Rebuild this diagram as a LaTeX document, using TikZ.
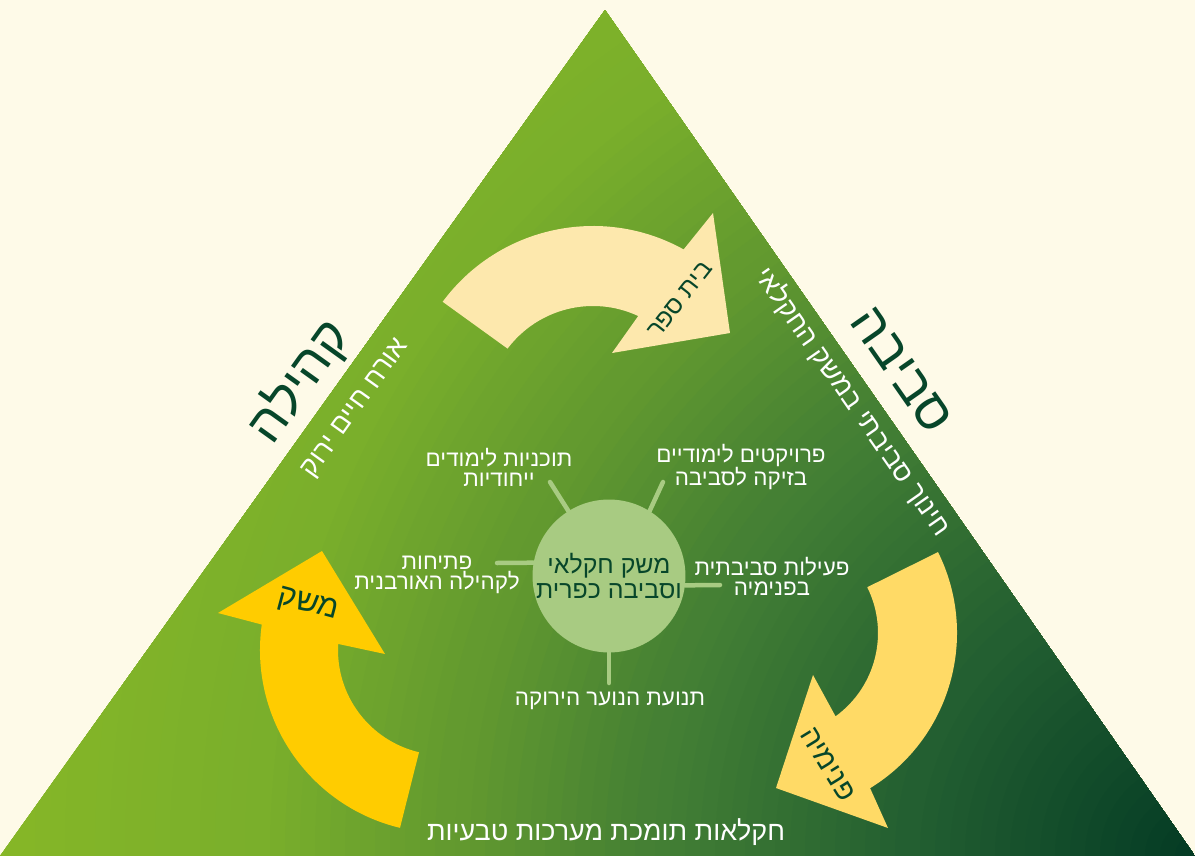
\documentclass[tikz,border=0pt]{standalone}
\usepackage{fontspec}
\newfontfamily\heb[Script=Hebrew]{Liberation Sans}
\TeXXeTstate=1
\usetikzlibrary{calc}
\definecolor{bg}{HTML}{FEFAE8}
\definecolor{g0}{HTML}{88B826}
\definecolor{g1}{HTML}{7AAF2B}
\definecolor{g2}{HTML}{62992F}
\definecolor{g3}{HTML}{437F34}
\definecolor{g4}{HTML}{235F31}
\definecolor{g5}{HTML}{033A24}
\definecolor{dkgreen}{HTML}{07462A}
\definecolor{circlegreen}{HTML}{A8CB82}
\definecolor{paleyellow}{HTML}{FDE8AD}
\definecolor{midyellow}{HTML}{FFDA66}
\definecolor{gold}{HTML}{FFCC00}
\newcommand{\myR}[1]{\beginR #1\endR}
\tikzset{
  smalltxt/.style={text=white, font=\heb\fontsize{22.5}{20}\selectfont, align=center, inner sep=0pt},
  sidetxt/.style={text=white, font=\heb\fontsize{27}{27}\selectfont, inner sep=0pt},
  titletxt/.style={text=dkgreen, font=\heb\fontsize{52}{52}\selectfont, inner sep=0pt},
  arrowtxt/.style={text=dkgreen, font=\heb\fontsize{25}{25}\selectfont, inner sep=0pt},
  spoke/.style={draw=circlegreen, line width=4.5bp, line cap=round},
}
\begin{document}
\begin{tikzpicture}[x=1bp,y=1bp]
\useasboundingbox (0,0) rectangle (1195,-856);
\fill[bg] (0,0) rectangle (1195,-856);
% triangle with gradient
\begin{scope}
\clip (0,-856) -- (605,-10) -- (1195,-856) -- cycle;
\foreach \r in {1250,1235,...,950} {\pgfmathtruncatemacro\p{(\r-950)/300*100}\fill[g0!\p!g1] (1195,-856) circle[radius=\r];}
\foreach \r in {940,925,...,750} {\pgfmathtruncatemacro\p{(\r-750)/190*100}\fill[g1!\p!g2] (1195,-856) circle[radius=\r];}
\foreach \r in {740,725,...,550} {\pgfmathtruncatemacro\p{(\r-550)/190*100}\fill[g2!\p!g3] (1195,-856) circle[radius=\r];}
\foreach \r in {540,525,...,300} {\pgfmathtruncatemacro\p{(\r-300)/240*100}\fill[g3!\p!g4] (1195,-856) circle[radius=\r];}
\foreach \r in {290,275,...,5} {\pgfmathtruncatemacro\p{(\r)/290*100}\fill[g4!\p!g5] (1195,-856) circle[radius=\r];}
\end{scope}
% arrows
\coordinate (O1) at (593,-413);
\coordinate (O2) at (775,-633);
\coordinate (O3) at (443,-650);
\fill[paleyellow] ($(O1)+(143.5:187)$) arc[start angle=143.5, end angle=61, radius=187]
  -- (713,-213) -- (730,-333) -- (612,-353) -- ($(O1)+(65:107)$)
  arc[start angle=65, end angle=143, radius=107] -- cycle;
\fill[midyellow] ($(O2)+(26.4:182)$) arc[start angle=26.4, end angle=-58.5, radius=182]
  -- (888,-828) -- (776,-788) -- (813,-675) -- ($(O2)+(-54:103)$)
  arc[start angle=-54, end angle=26.4, radius=103] -- cycle;
\fill[gold] ($(O3)+(256.4:183)$) arc[start angle=256.4, end angle=172, radius=183]
  -- (218,-613) -- (322,-551) -- (385,-654) -- ($(O3)+(176.7:105)$)
  arc[start angle=176.7, end angle=256.8, radius=105] -- cycle;
% arrow labels
\node[arrowtxt, rotate=52] (school) at (680,-300) {\myR{בית ספר}};
\node[arrowtxt, rotate=-58.5, font=\heb\fontsize{29}{29}\selectfont] (dorm) at (828,-764) {\myR{פנימיה}};
\node[arrowtxt, rotate=-15, font=\heb\fontsize{31}{31}\selectfont] (farm) at (308,-605) {משק};
% side titles
\node[titletxt, rotate=54.4] (community) at (299,-382) {\myR{קהילה}};
\node[sidetxt, rotate=54.4] (greenlife) at (356,-409) {\myR{אורח חיים ירוק}};
\node[titletxt, rotate=-55.1] (environment) at (901,-370) {\myR{סביבה}};
\node[sidetxt, rotate=-55.1] (enved) at (853,-402) {\myR{חינוך סביבתי במשק החקלאי}};
% centre circle
\node[circle, fill=circlegreen, minimum size=150bp, inner sep=0pt, text=dkgreen,
  font=\heb\fontsize{25}{26}\selectfont, align=center] (c) at (609,-576)
  {\myR{משק חקלאי}\\\myR{וסביבה כפרית}};
\coordinate (e1) at (550,-482);
\coordinate (e2) at (663,-482);
\coordinate (e3) at (497,-563);
\coordinate (e4) at (720,-585);
\coordinate (e5) at (609,-683);
\draw[spoke] (c.122) -- (e1);
\draw[spoke] (c.58) -- (e2);
\draw[spoke] (c.170) -- (e3);
\draw[spoke] (c.-7) -- (e4);
\draw[spoke] (c.south) -- (e5);
\node[smalltxt] (t1) at (499,-467) {\myR{תוכניות לימודים}\\\myR{ייחודיות}};
\node[smalltxt] (t2) at (741,-467) {\myR{פרויקטים לימודיים}\\\myR{בזיקה לסביבה}};
\node[smalltxt] (t3) at (772,-576) {\myR{פעילות סביבתית}\\\myR{בפנימיה}};
\node[smalltxt] (t4) at (437,-575) {\myR{פתיחות}\\\myR{לקהילה האורבנית}};
\node[smalltxt] (t5) at (610,-701) {\myR{תנועת הנוער הירוקה}};
\node[sidetxt] (bottom) at (606,-832) {\myR{חקלאות תומכת מערכות טבעיות}};
\end{tikzpicture}
\end{document}
